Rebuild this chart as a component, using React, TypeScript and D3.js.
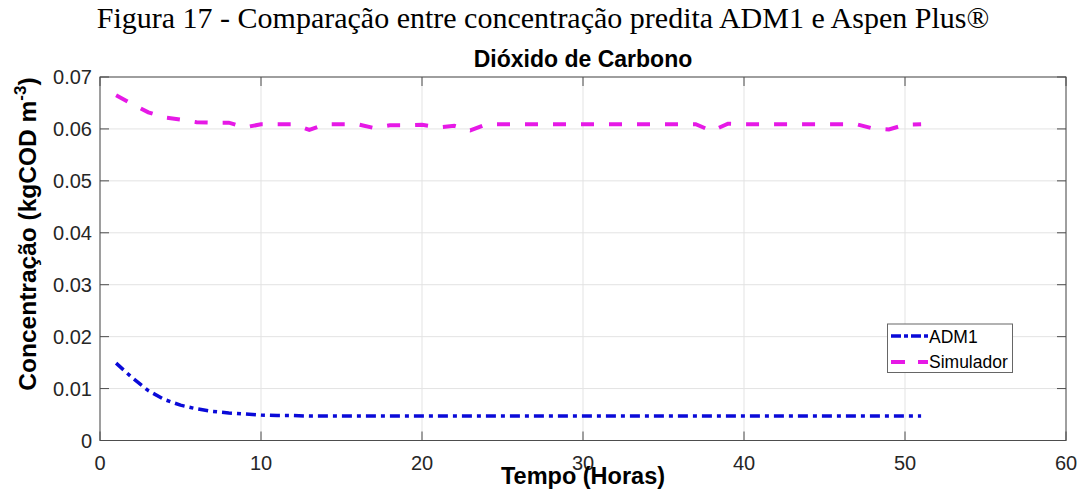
import React from "react";
import * as d3 from "d3";

const hours = Array.from({ length: 51 }, (_, i) => i + 1);
const adm1 = [
  0.0149, 0.0121, 0.0096, 0.0079, 0.0068, 0.0061, 0.0056, 0.0053, 0.0051, 0.0049,
  0.0048, 0.0048, 0.0047, 0.0047, 0.0047, 0.0047, 0.0047, 0.0047, 0.0047, 0.0047,
  0.0047, 0.0047, 0.0047, 0.0047, 0.0047, 0.0047, 0.0047, 0.0047, 0.0047, 0.0047,
  0.0047, 0.0047, 0.0047, 0.0047, 0.0047, 0.0047, 0.0047, 0.0047, 0.0047, 0.0047,
  0.0047, 0.0047, 0.0047, 0.0047, 0.0047, 0.0047, 0.0047, 0.0047, 0.0047, 0.0047,
  0.0047,
];
const simulador = [
  0.0665, 0.0648, 0.0632, 0.0622, 0.0618, 0.0613, 0.0612, 0.0612, 0.0603, 0.0609,
  0.0609, 0.0609, 0.0598, 0.0609, 0.0609, 0.0609, 0.0602, 0.0607, 0.0607, 0.0608,
  0.0603, 0.0606, 0.0597, 0.0609, 0.0609, 0.0609, 0.0609, 0.0609, 0.0609, 0.0609,
  0.0609, 0.0609, 0.0609, 0.0609, 0.0609, 0.0609, 0.0609, 0.0596, 0.0610, 0.0609,
  0.0609, 0.0609, 0.0609, 0.0609, 0.0609, 0.0609, 0.0609, 0.0601, 0.0599, 0.0608,
  0.0609,
];
const xTicks = [0, 10, 20, 30, 40, 50, 60];
const yTicks = [0, 0.01, 0.02, 0.03, 0.04, 0.05, 0.06, 0.07];
const yTickLabels = ["0", "0.01", "0.02", "0.03", "0.04", "0.05", "0.06", "0.07"];

export default function App() {
  const W = 1086, H = 491;
  const L = 100, R = 1066, T = 77, B = 440.5;
  const x = d3.scaleLinear().domain([0, 60]).range([L, R]);
  const y = d3.scaleLinear().domain([0, 0.07]).range([B, T]);
  const line = d3.line<number>().x((_, i) => x(hours[i])).y((d) => y(d));
  const axisColor = "#4d4d4d";
  const textColor = "#262626";
  const font = "Liberation Sans, Arial, sans-serif";
  const legX = 887.5, legY = 324, legW = 125, legH = 48.5;
  return (
    <svg width={W} height={H} style={{ position: "absolute", left: 0, top: 0 }}>
      <rect x={0} y={0} width={W} height={H} fill="#fff" />
      <text x={543} y={28} textAnchor="middle" fontFamily="Liberation Serif, Times New Roman, serif" fontSize={30} fill="#000">
        Figura 17 - Comparação entre concentração predita ADM1 e Aspen Plus®
      </text>
      <text x={(L + R) / 2} y={67} textAnchor="middle" fontFamily={font} fontWeight="bold" fontSize={23} fill="#000">
        Dióxido de Carbono
      </text>
      {xTicks.map((t) => (
        <line key={"gx" + t} x1={x(t)} x2={x(t)} y1={T} y2={B} stroke="#e3e3e3" strokeWidth={1} />
      ))}
      {yTicks.map((t) => (
        <line key={"gy" + t} x1={L} x2={R} y1={y(t)} y2={y(t)} stroke="#e3e3e3" strokeWidth={1} />
      ))}
      <rect x={L} y={T} width={R - L} height={B - T} fill="none" stroke={axisColor} strokeWidth={1} />
      {xTicks.map((t) => (
        <g key={"tx" + t}>
          <line x1={x(t)} x2={x(t)} y1={B} y2={B - 9} stroke={axisColor} />
          <line x1={x(t)} x2={x(t)} y1={T} y2={T + 9} stroke={axisColor} />
          <text x={x(t)} y={470} textAnchor="middle" fontFamily={font} fontSize={20} fill={textColor}>
            {t}
          </text>
        </g>
      ))}
      {yTicks.map((t, i) => (
        <g key={"ty" + t}>
          <line x1={L} x2={L + 9} y1={y(t)} y2={y(t)} stroke={axisColor} />
          <line x1={R} x2={R - 9} y1={y(t)} y2={y(t)} stroke={axisColor} />
          <text x={92} y={y(t) + 7} textAnchor="end" fontFamily={font} fontSize={20} fill={textColor}>
            {yTickLabels[i]}
          </text>
        </g>
      ))}
      <path d={line(simulador) || ""} fill="none" stroke="#e619e6" strokeWidth={4} strokeDasharray="13 15" />
      <path d={line(adm1) || ""} fill="none" stroke="#0a0ad8" strokeWidth={3.5} strokeDasharray="10 5 4 5" />
      <text x={(L + R) / 2} y={484} textAnchor="middle" fontFamily={font} fontWeight="bold" fontSize={23.5} fill="#000">
        Tempo (Horas)
      </text>
      <text transform={`translate(36, 234) rotate(-90)`} textAnchor="middle" fontFamily={font} fontWeight="bold" fontSize={24.5} fill="#000">
        Concentração (kgCOD m<tspan dy={-10} fontSize={17}>-3</tspan><tspan dy={10}>)</tspan>
      </text>
      <rect x={legX} y={legY} width={legW} height={legH} fill="#fff" stroke="#666" strokeWidth={1} />
      <line x1={891} x2={928} y1={336} y2={336} stroke="#0a0ad8" strokeWidth={3.5} strokeDasharray="10 3 4 3" />
      <text x={929} y={343} fontFamily={font} fontSize={17.5} fill="#000">ADM1</text>
      <line x1={891} x2={928} y1={362} y2={362} stroke="#e619e6" strokeWidth={4} strokeDasharray="14 13" />
      <text x={929} y={368} fontFamily={font} fontSize={17.5} fill="#000">Simulador</text>
    </svg>
  );
}
